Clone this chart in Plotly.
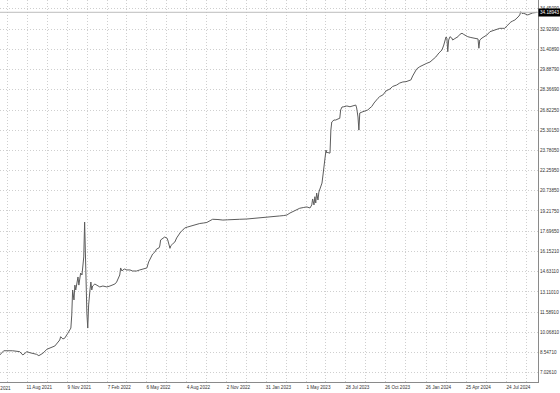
import pandas as pd
import plotly.graph_objects as go

# ---- data ----
start_date = "2021-06-10"
day_offsets = [
    0, 9, 29, 45, 52, 61, 68, 83, 88, 97,
    106, 113, 124, 135, 137, 142, 146, 153, 160, 162,
    164, 167, 169, 171, 173, 176, 178, 180, 182, 185,
    187, 189, 191, 194, 196, 198, 200, 203, 205, 207,
    209, 214, 218, 225, 232, 241, 248, 254, 259, 263,
    268, 270, 272, 275, 277, 281, 286, 293, 299, 308,
    315, 322, 326, 331, 335, 340, 344, 349, 353, 358,
    360, 362, 367, 371, 376, 378, 383, 385, 389, 394,
    398, 403, 407, 412, 416, 423, 430, 437, 443, 450,
    459, 466, 473, 479, 491, 502, 513, 524, 540, 556,
    569, 585, 601, 614, 630, 639, 646, 653, 659, 668,
    675, 684, 691, 698, 702, 704, 707, 709, 711, 713,
    716, 718, 720, 722, 725, 727, 729, 731, 734, 736,
    738, 740, 743, 745, 747, 752, 756, 761, 765, 767,
    770, 774, 781, 788, 794, 801, 803, 806, 808, 810,
    815, 819, 824, 828, 833, 837, 842, 846, 851, 855,
    862, 869, 878, 884, 893, 900, 907, 914, 920, 925,
    929, 934, 938, 945, 952, 961, 968, 974, 981, 988,
    995, 999, 1001, 1004, 1006, 1008, 1010, 1013, 1017, 1019,
    1024, 1031, 1035, 1040, 1044, 1049, 1053, 1060, 1067, 1073,
    1076, 1078, 1080, 1085, 1091, 1096, 1103, 1109, 1114, 1121,
    1125, 1132, 1136, 1141, 1145, 1150, 1154, 1159, 1166, 1170,
    1172, 1175, 1179, 1184, 1188, 1193, 1199, 1206, 1208,
]
prices = [
    8.36, 8.68, 8.68, 8.61, 8.36, 8.61, 8.53, 8.41, 8.31, 8.49,
    8.79, 8.91, 9.04, 9.49, 9.74, 9.57, 9.62, 9.99, 10.39, 11.37,
    13.26, 12.51, 13.63, 13.26, 13.79, 14.24, 13.63, 14.39, 14.54, 14.39,
    14.92, 15.75, 18.38, 13.03, 11.52, 10.39, 12.13, 13.26, 13.86, 13.26,
    13.56, 13.71, 13.63, 13.49, 13.56, 13.49, 13.56, 13.63, 13.71, 13.86,
    14.16, 14.39, 14.92, 14.69, 14.77, 14.84, 14.77, 14.77, 14.69, 14.69,
    14.77, 14.84, 14.84, 14.92, 15.37, 15.67, 15.97, 16.12, 16.35, 16.42,
    16.57, 17.03, 17.18, 17.25, 17.18, 17.03, 16.40, 16.60, 16.73, 16.88,
    17.18, 17.48, 17.63, 17.78, 17.93, 18.01, 18.08, 18.16, 18.23, 18.27,
    18.31, 18.35, 18.48, 18.59, 18.57, 18.53, 18.55, 18.55, 18.59, 18.61,
    18.66, 18.69, 18.74, 18.78, 18.84, 18.87, 18.91, 19.06, 19.16, 19.29,
    19.42, 19.48, 19.52, 19.44, 19.67, 20.12, 19.67, 20.29, 19.82, 20.57,
    20.04, 20.64, 20.80, 21.10, 21.32, 21.85, 22.45, 23.28, 23.81, 23.58,
    23.66, 23.58, 23.58, 25.31, 25.92, 26.07, 26.07, 26.15, 26.20, 26.83,
    27.05, 27.07, 27.13, 27.07, 27.13, 27.20, 26.98, 26.30, 25.31, 26.60,
    26.67, 26.71, 26.75, 26.83, 26.98, 27.09, 27.35, 27.54, 27.71, 27.84,
    27.96, 28.26, 28.41, 28.60, 28.71, 28.86, 28.94, 28.96, 29.01, 29.09,
    29.39, 29.71, 29.92, 30.09, 30.22, 30.35, 30.44, 30.59, 30.82, 31.12,
    31.35, 31.72, 31.97, 32.33, 32.25, 31.22, 32.10, 32.35, 32.25, 32.10,
    32.21, 32.35, 32.52, 32.61, 32.52, 32.40, 32.35, 32.29, 32.23, 32.23,
    32.18, 31.48, 32.10, 32.25, 32.40, 32.48, 32.73, 32.80, 32.85, 32.93,
    32.98, 32.98, 32.98, 33.16, 33.31, 33.46, 33.53, 33.61, 33.83, 33.99,
    34.23, 34.10, 34.11, 34.02, 33.99, 34.06, 34.14, 34.17, 34.18943,
]
last_price = 34.18943
last_price_text = "34.18943"

date_labels = ["2021-05-13", "2021-08-11", "2021-11-09", "2022-02-07", "2022-05-06",
               "2022-08-04", "2022-11-02", "2023-01-31", "2023-05-01", "2023-07-28",
               "2023-10-26", "2024-01-26", "2024-04-25", "2024-07-24", "2024-10-22"]
date_texts = ["13 May 2021", "11 Aug 2021", "9 Nov 2021", "7 Feb 2022", "6 May 2022",
              "4 Aug 2022", "2 Nov 2022", "31 Jan 2023", "1 May 2023", "28 Jul 2023",
              "26 Oct 2023", "26 Jan 2024", "25 Apr 2024", "24 Jul 2024", "22 Oct 2024"]

price_ticks = [34.4509, 32.9299, 31.4089, 29.8879, 28.3669, 26.8225, 25.3015, 23.7805,
               22.2595, 20.7385, 19.2175, 17.6965, 16.1521, 14.6311, 13.1101, 11.5891,
               10.0681, 8.5471, 7.0261]
price_tick_texts = ["34.45090", "32.92990", "31.40890", "29.88790", "28.36690", "26.82250",
                    "25.30150", "23.78050", "22.25950", "20.73850", "19.21750", "17.69650",
                    "16.15210", "14.63110", "13.11010", "11.58910", "10.06810", "8.54710",
                    "7.02610"]

# ---- build ----
dates = pd.Timestamp(start_date) + pd.to_timedelta(day_offsets, unit="D")

lab_ts = [pd.Timestamp(d) for d in date_labels]
tick_vals, tick_txt = [], []
for i, d in enumerate(lab_ts):
    tick_vals.append(d)
    tick_txt.append(date_texts[i])
    if i + 1 < len(lab_ts):
        tick_vals.append(d + (lab_ts[i + 1] - d) / 2)
        tick_txt.append("")

FONT = "Liberation Sans"
GRID = "#cfcfcf"
AXIS = "#8a8a8a"
DASH = "1px,2px"

fig = go.Figure()
fig.add_trace(go.Scatter(
    x=dates, y=prices, mode="lines",
    line=dict(color="#5c5c5c", width=1),
    hoverinfo="skip", showlegend=False,
))

fig.add_shape(type="line", xref="paper", x0=0, x1=1, yref="y",
              y0=last_price, y1=last_price, line=dict(color="#bcbcbc", width=1))

fig.add_annotation(xref="paper", x=1, xanchor="left", yref="y", y=last_price,
                   yanchor="middle", text=last_price_text, showarrow=False,
                   bgcolor="#000000", font=dict(family=FONT, size=4.6, color="#ffffff"),
                   borderpad=1)

fig.add_annotation(xref="paper", x=0, xanchor="right", xshift=13,
                   yref="paper", y=0, yanchor="top", yshift=-2,
                   text=date_texts[0], showarrow=False,
                   font=dict(family=FONT, size=4.6, color="#333333"))

fig.update_layout(
    template="none",
    width=560, height=393,
    margin=dict(l=0, r=22, t=0, b=11, pad=0),
    paper_bgcolor="white", plot_bgcolor="white",
    showlegend=False,
    xaxis=dict(
        type="date",
        range=["2021-06-10 14:00", "2024-10-03"],
        tickmode="array", tickvals=tick_vals, ticktext=tick_txt,
        showgrid=True, gridcolor=GRID, griddash=DASH, gridwidth=1,
        showline=True, linecolor=AXIS, linewidth=1,
        ticks="", zeroline=False, automargin=False,
        tickfont=dict(family=FONT, size=4.6, color="#333333"),
        ticklabelshift=12, ticklabelstandoff=0,
    ),
    yaxis=dict(
        side="right",
        range=[6.325, 35.116],
        tickmode="array", tickvals=price_ticks, ticktext=price_tick_texts,
        showgrid=True, gridcolor=GRID, griddash=DASH, gridwidth=1,
        showline=True, linecolor=AXIS, linewidth=1,
        ticks="", zeroline=False, automargin=False,
        tickfont=dict(family=FONT, size=4.6, color="#333333"),
        ticklabelstandoff=0,
    ),
)

fig.write_html("out.html")
